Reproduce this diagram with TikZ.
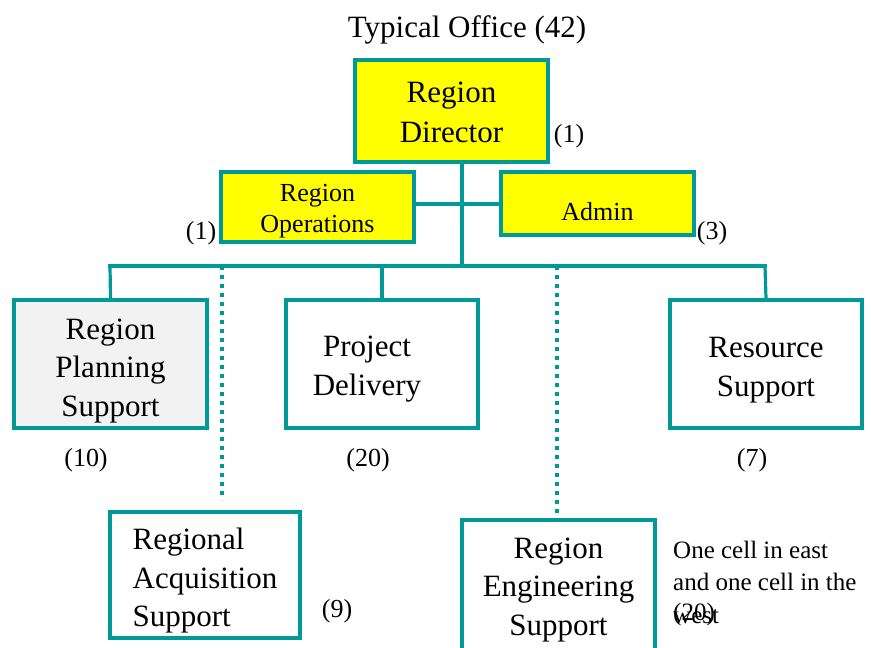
\documentclass[tikz,border=0pt]{standalone}
\usepackage{fontspec}
\setmainfont{Liberation Serif}
\definecolor{tealc}{HTML}{009999}
\definecolor{yel}{HTML}{FFFF00}
\definecolor{lgray}{HTML}{F2F2F2}
\begin{document}
\begin{tikzpicture}[x=1pt,y=-1pt,
  box/.style={draw=tealc, line width=3.2pt, inner sep=0pt},
  big/.style={inner sep=0pt, align=center, font=\fontsize{31}{38.5}\selectfont},
  small/.style={inner sep=0pt, align=center, font=\fontsize{26}{31}\selectfont},
  lbl/.style={inner sep=0pt, font=\fontsize{26}{32}\selectfont},
  conn/.style={draw=tealc, line width=3.2pt},
  dots/.style={draw=tealc, line width=3.2pt, dash pattern=on 4pt off 5pt}]
\useasboundingbox (0,0) rectangle (871,648);

\node[lbl, font=\fontsize{31}{36}\selectfont] (title) at (467,30) {Typical Office (42)};

% top boxes
\node[box, fill=yel, minimum width=193pt, minimum height=102pt] (dir) at (451.5,111) {};
\node[big, font=\fontsize{31}{40}\selectfont] (dirt) at (451.5,112) {Region\\Director};
\node[box, fill=yel, minimum width=193pt, minimum height=70pt] (ops) at (317.5,207) {};
\node[small] (opst) at (317.5,211) {Region\\Operations};
\node[box, fill=yel, minimum width=193pt, minimum height=63pt] (adm) at (597.5,203.5) {};
\node[small] (admt) at (597.5,212) {Admin};

\node[lbl] (l1) at (569,136) {(1)};
\node[lbl] (l2) at (201,233) {(1)};
\node[lbl] (l3) at (712,233) {(3)};

% middle row
\node[box, fill=lgray, minimum width=193pt, minimum height=128pt] (rps) at (110.5,364) {};
\node[big] (rpst) at (110.5,371) {Region\\Planning\\Support};
\node[box, fill=white, minimum width=192pt, minimum height=128pt] (pd) at (382,364) {};
\node[big] (pdt) at (367,369) {Project\\Delivery};
\node[box, fill=white, minimum width=192pt, minimum height=128pt] (rs) at (766,364) {};
\node[big] (rst) at (766,370) {Resource\\Support};

\node[lbl] (l10) at (86,460) {(10)};
\node[lbl] (l20) at (368,460) {(20)};
\node[lbl] (l7) at (752,460) {(7)};

% bottom row
\node[box, fill=white, minimum width=190pt, minimum height=126pt] (ras) at (205,575) {};
\node[big, align=left] (rast) at (205,581) {Regional\\Acquisition\\Support};
\node[box, fill=white, minimum width=193pt, minimum height=130pt] (res) at (558.5,585) {};
\node[big] (rest) at (558.5,590) {Region\\Engineering\\Support};

\node[lbl] (l9) at (337,611) {(9)};
\node[lbl, anchor=west, align=left, font=\fontsize{25}{32.5}\selectfont] (note) at (673,582) {One cell in east\\and one cell in the\\west};
\node[lbl, anchor=west, font=\fontsize{25}{32.5}\selectfont] (l20b) at (673,614) {(20)};

% connectors
\coordinate (tt) at (462,162);
\coordinate (busL) at (110,266);
\coordinate (busR) at (765,266);
\coordinate (d1t) at (222,266);
\coordinate (d1b) at (222,500);
\coordinate (d2t) at (557,266);
\coordinate (d2b) at (557,519);

\draw[conn] (tt) -- (tt |- busL);
\draw[conn] (ops.east |- 0,204) -- (adm.west |- 0,204);
\draw[conn] ([xshift=-1.6pt]busL) -- ([xshift=1.6pt]busR);
\draw[conn] (busL) -- (rps.north);
\draw[conn] (pd.north |- busL) -- (pd.north);
\draw[conn] (busR) -- (rs.north);
\draw[dots] (d1t) -- (d1b);
\draw[dots] (d2t) -- (d2b);
\end{tikzpicture}
\end{document}
